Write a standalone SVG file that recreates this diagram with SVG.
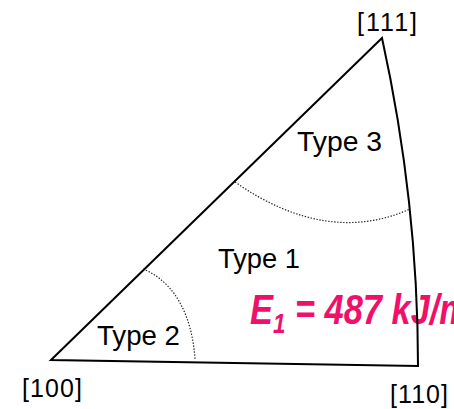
<svg xmlns="http://www.w3.org/2000/svg" width="454" height="409" viewBox="0 0 454 409">
  <style>
    .edge { fill: none; stroke: #000; stroke-width: 2; stroke-linejoin: miter; }
    .dot { fill: none; stroke: #222; stroke-width: 1.2; stroke-dasharray: 1.4 1.6; }
    .lbl { font-family: "Liberation Sans", Arial, sans-serif; font-size: 27px; fill: #000; }
    .dir { font-family: "Liberation Sans", Arial, sans-serif; font-size: 25px; fill: #000; }
    .en { font-family: "Liberation Sans", Arial, sans-serif; font-size: 43px; font-weight: bold; font-style: italic; fill: #F0106A; white-space: pre; }
  </style>
  <rect width="454" height="409" fill="#fff"/>
  <g id="energy-label">
    <text class="en" transform="translate(250,324) scale(0.8,1)">E<tspan font-size="28" dy="9">1</tspan><tspan dy="-9"> = 487 kJ/m</tspan></text>
  </g>
  <g id="triangle">
    <path class="edge" d="M51,360 L382,38 Q418,202 418,366 L51,360 Z"/>
  </g>
  <g id="boundaries">
    <path class="dot" d="M235,182 Q327,246 410,209"/>
    <path class="dot" d="M143,269 C178,283 193,322 195,360"/>
  </g>
  <g id="regions">
    <text class="lbl" x="297" y="151" textLength="85" lengthAdjust="spacingAndGlyphs">Type 3</text>
    <text class="lbl" x="218" y="268" textLength="82" lengthAdjust="spacingAndGlyphs">Type 1</text>
    <text class="lbl" x="97" y="345" textLength="83" lengthAdjust="spacingAndGlyphs">Type 2</text>
  </g>
  <g id="directions">
    <text class="dir" x="357" y="31" textLength="60" lengthAdjust="spacing">[111]</text>
    <text class="dir" x="22" y="397" textLength="60" lengthAdjust="spacing">[100]</text>
    <text class="dir" x="390" y="403" textLength="58" lengthAdjust="spacing">[110]</text>
  </g>
</svg>
